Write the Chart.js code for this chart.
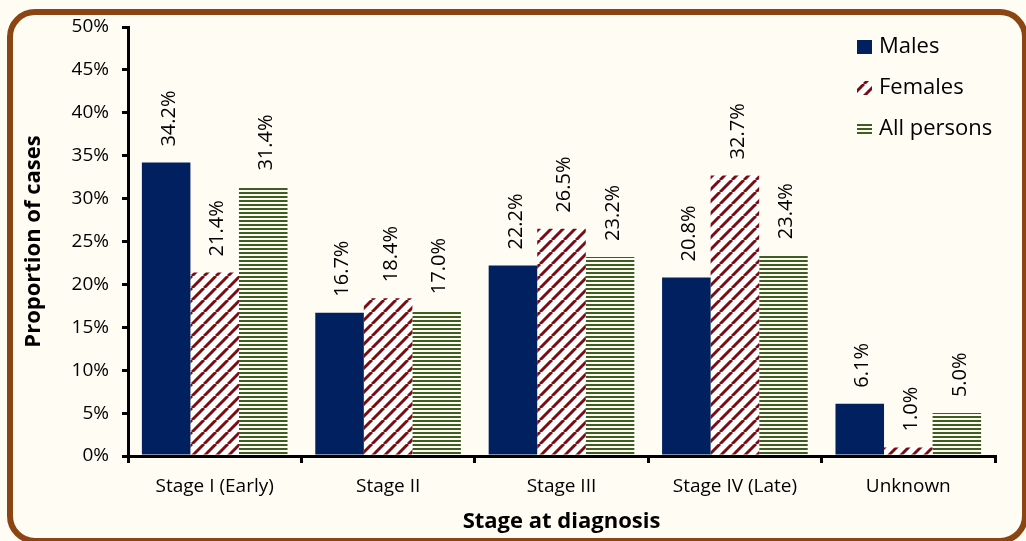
<!DOCTYPE html>
<html>
<head>
<meta charset="utf-8">
<script src="https://cdn.jsdelivr.net/npm/chart.js@4"></script>
<style>
  html, body { margin:0; padding:0; background:#fffcf3; }
  #frame {
    position:absolute; left:7px; top:9px; width:1021px; height:535px;
    box-sizing:border-box; border:6px solid #8b4513; border-radius:28px;
    background:#fffcf3;
  }
  #chart { position:absolute; left:0; top:0; }
</style>
</head>
<body>
<div id="frame"></div>
<canvas id="chart" width="1026" height="541"></canvas>
<script>
// Categories and values (% of cases)
const stages = ["Stage I (Early)", "Stage II", "Stage III", "Stage IV (Late)", "Unknown"];
const males = [34.2, 16.7, 22.2, 20.8, 6.1];
const females = [21.4, 18.4, 26.5, 32.7, 1.0];
const allPersons = [31.4, 17.0, 23.2, 23.4, 5.0];
const yTicks = [0, 5, 10, 15, 20, 25, 30, 35, 40, 45, 50];

const FONT = "'Open Sans', 'Liberation Sans', sans-serif";

// Diagonal maroon stripes on white
function diagPattern(){
  const c = document.createElement('canvas');
  const s = 12;
  c.width = s; c.height = s;
  const g = c.getContext('2d');
  g.fillStyle = '#ffffff';
  g.fillRect(0, 0, s, s);
  g.strokeStyle = '#7f0a10';
  g.lineWidth = 3;
  for (let k = -1; k <= 1; k++) {
    g.beginPath();
    g.moveTo(k * s, s);
    g.lineTo(k * s + s, 0);
    g.stroke();
  }
  return g.createPattern(c, 'repeat');
}

// Horizontal green lines
function hlinePattern(){
  const c = document.createElement('canvas');
  c.width = 4; c.height = 4;
  const g = c.getContext('2d');
  g.fillStyle = '#fffcf3';
  g.fillRect(0, 0, 4, 4);
  g.fillStyle = '#3d5e23';
  g.fillRect(0, 0, 4, 2);
  return g.createPattern(c, 'repeat');
}

// Value labels, rotated, above each bar
const valueLabels = {
  id: 'valueLabels',
  afterDatasetsDraw(chart){
    const ctx = chart.ctx;
    ctx.save();
    ctx.font = '20px ' + FONT;
    ctx.fillStyle = '#000';
    ctx.textAlign = 'left';
    ctx.textBaseline = 'middle';
    chart.data.datasets.forEach((ds, i) => {
      chart.getDatasetMeta(i).data.forEach((bar, j) => {
        ctx.save();
        ctx.translate(bar.x + 3, bar.y - 16);
        ctx.rotate(-Math.PI / 2);
        ctx.fillText(ds.data[j].toFixed(1) + '%', 0, 0);
        ctx.restore();
      });
    });
    ctx.restore();
  }
};

// Legend in the top right corner of the plot
const cornerLegend = {
  id: 'cornerLegend',
  afterDraw(chart){
    const ctx = chart.ctx;
    ctx.save();
    ctx.font = '22px ' + FONT;
    ctx.textBaseline = 'middle';
    chart.data.datasets.forEach((ds, i) => {
      const y = 47 + i * 41;
      ctx.fillStyle = ds.backgroundColor;
      ctx.fillRect(857, y - 7, 15, 14);
      ctx.fillStyle = '#000';
      ctx.fillText(ds.label, 879, y);
    });
    ctx.restore();
  }
};

function init(){
  const ctx = document.getElementById('chart').getContext('2d');
  new Chart(ctx, {
    type: 'bar',
    data: {
      labels: stages,
      datasets: [
        { label: 'Males', data: males, backgroundColor: '#002060' },
        { label: 'Females', data: females, backgroundColor: diagPattern() },
        { label: 'All persons', data: allPersons, backgroundColor: hlinePattern() }
      ]
    },
    options: {
      responsive: false,
      animation: false,
      devicePixelRatio: 1,
      layout: { padding: { top: 27, right: 31, left: 0, bottom: 0 } },
      datasets: { bar: { categoryPercentage: 0.84, barPercentage: 1.0 } },
      plugins: { legend: { display: false }, tooltip: { enabled: false } },
      scales: {
        x: {
          grid: { offset: true, drawOnChartArea: false, drawTicks: true, tickLength: 7, color: '#000', lineWidth: 3 },
          border: { color: '#000', width: 3 },
          ticks: { color: '#000', font: { family: FONT, size: 19 }, padding: 12, maxRotation: 0 },
          title: { display: true, text: 'Stage at diagnosis', color: '#000',
                   font: { family: FONT, size: 22, weight: 'bold' }, padding: { top: 0, bottom: 6 } },
          afterFit(scale){ scale.height = 85; }
        },
        y: {
          min: 0, max: 50,
          afterBuildTicks(scale){ scale.ticks = yTicks.map(v => ({ value: v })); },
          grid: { drawOnChartArea: false, drawTicks: true, tickLength: 6, color: '#000', lineWidth: 3 },
          border: { color: '#000', width: 3 },
          ticks: { color: '#000', font: { family: FONT, size: 19 }, padding: 13,
                   callback: v => v + '%' },
          title: { display: true, text: 'Proportion of cases', color: '#000',
                   font: { family: FONT, size: 22, weight: 'bold' }, padding: { top: 21, bottom: 0 } },
          afterFit(scale){ scale.width = 128; }
        }
      }
    },
    plugins: [valueLabels, cornerLegend]
  });
}

document.addEventListener('DOMContentLoaded', init);
</script>
</body>
</html>
